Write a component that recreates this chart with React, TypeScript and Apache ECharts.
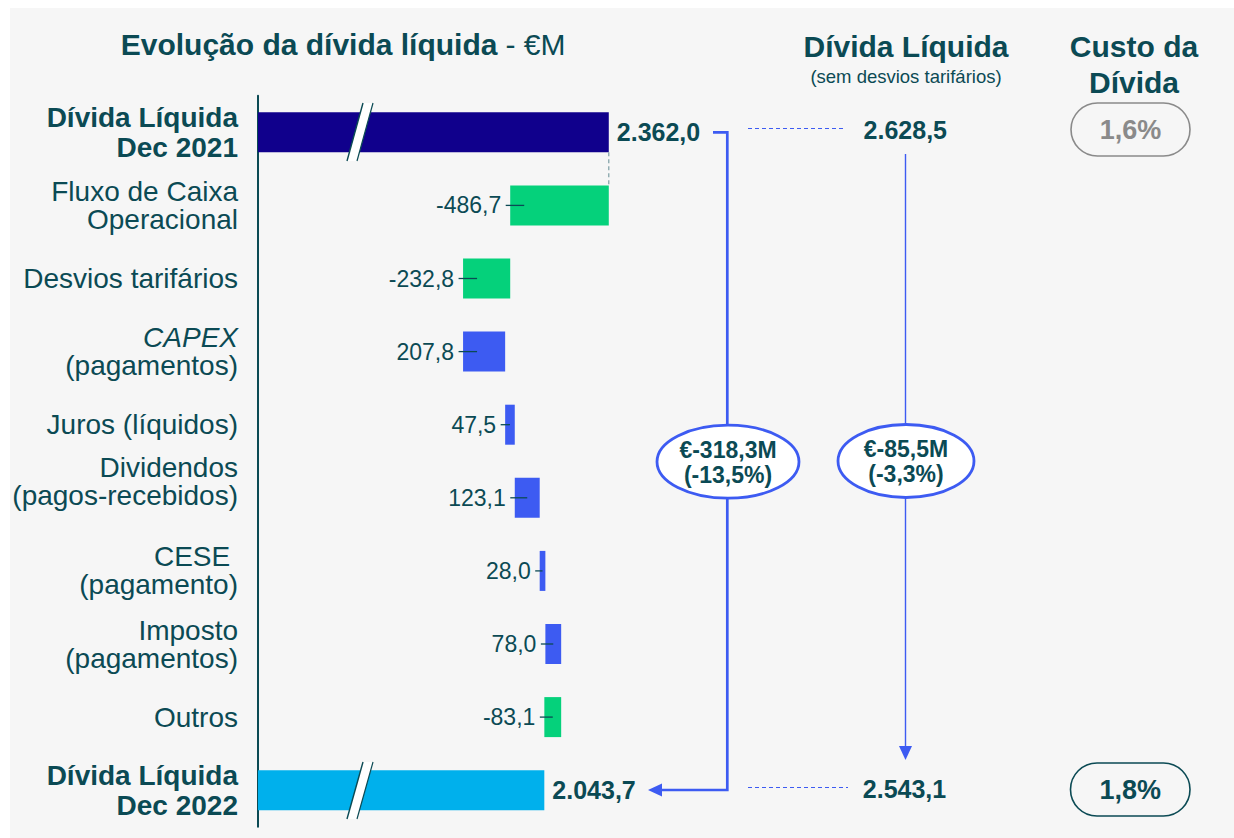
import React, { useEffect, useRef } from 'react';
import * as echarts from 'echarts';

// ---------- data ----------
const categories = [
  'Dívida Líquida\nDec 2021',
  'Fluxo de Caixa\nOperacional',
  'Desvios tarifários',
  'CAPEX\n(pagamentos)',
  'Juros (líquidos)',
  'Dividendos\n(pagos-recebidos)',
  'CESE \n(pagamento)',
  'Imposto\n(pagamentos)',
  'Outros',
  'Dívida Líquida\nDec 2022',
];
const openingDebt = 2362.0;
const closingDebt = 2043.7;
const movements = [-486.7, -232.8, 207.8, 47.5, 123.1, 28.0, 78.0, -83.1];
const debtExTariff = [2628.5, 2543.1];
const variationAbs = [-318.3, -85.5];
const variationPct = [-13.5, -3.3];
const costOfDebt = [1.6, 1.8];

// ---------- style ----------
const TEAL = '#0b4a54';
const NAVY = '#10008c';
const CYAN = '#00b0ec';
const GREEN = '#05d17b';
const BLUE = '#3d5bf2';
const GREY = '#8a8a8a';
const FONT = '"Liberation Sans", Arial, sans-serif';

const fmtNum = (v: number, grouped = true) => {
  const s = Math.abs(v).toFixed(1);
  let [i, d] = s.split('.');
  if (grouped) i = i.replace(/\B(?=(\d{3})+(?!\d))/g, '.');
  return (v < 0 ? '-' : '') + i + ',' + d;
};

export default function App() {
  const ref = useRef<HTMLDivElement>(null);

  useEffect(() => {
    if (!ref.current) return;
    const chart = echarts.init(ref.current, undefined, { renderer: 'svg' });

    // waterfall computation
    const n = categories.length;
    const baseData: any[] = [];
    const deltaData: any[] = [];
    const labelData: any[] = [];
    baseData.push({ value: openingDebt, itemStyle: { color: NAVY }, label: { show: true } });
    deltaData.push('-');
    let running = openingDebt;
    movements.forEach((m, k) => {
      const low = m < 0 ? running + m : running;
      const high = m < 0 ? running : running + m;
      baseData.push({ value: low, itemStyle: { color: 'rgba(0,0,0,0)' }, label: { show: false } });
      deltaData.push({ value: Math.abs(m), itemStyle: { color: m < 0 ? GREEN : BLUE } });
      labelData.push([low, high, k + 1, m]);
      running += m;
    });
    baseData.push({ value: closingDebt, itemStyle: { color: CYAN }, label: { show: true } });
    deltaData.push('-');

    const text = (x: number, y: number, t: string, o: any = {}) => ({
      type: 'text',
      x,
      y,
      z: 10,
      style: {
        text: t,
        fill: o.fill || TEAL,
        fontFamily: FONT,
        fontSize: o.size || 25,
        fontWeight: o.weight || 'bold',
        textAlign: o.align || 'center',
        textVerticalAlign: 'middle',
      },
    });

    const breakMark = (x: number, yTop: number, yBot: number) => [
      {
        type: 'polygon',
        z: 10,
        shape: { points: [[x + 16, yTop], [x + 26, yTop], [x + 10, yBot], [x, yBot]] },
        style: { fill: '#ffffff', stroke: 'none' },
      },
      {
        type: 'line',
        z: 11,
        shape: { x1: x + 16, y1: yTop, x2: x, y2: yBot },
        style: { stroke: TEAL, lineWidth: 1.4 },
      },
      {
        type: 'line',
        z: 11,
        shape: { x1: x + 26, y1: yTop, x2: x + 10, y2: yBot },
        style: { stroke: TEAL, lineWidth: 1.2 },
      },
    ];

    const ellipse = (cx: number, cy: number, rx: number, ry: number, abs: number, pct: number) => [
      {
        type: 'ellipse',
        z: 12,
        shape: { cx, cy, rx, ry },
        style: { fill: '#ffffff', stroke: BLUE, lineWidth: 2.8 },
      },
      { ...text(cx, cy - 12, '€' + fmtNum(abs) + 'M', { size: 23 }), z: 13 },
      { ...text(cx, cy + 13, '(' + fmtNum(pct) + '%)', { size: 23 }), z: 13 },
    ];

    const pill = (x: number, y: number, w: number, h: number, stroke: string, t: string) => [
      {
        type: 'rect',
        z: 10,
        shape: { x, y, width: w, height: h, r: h / 2 },
        style: { fill: 'none', stroke, lineWidth: 1.6 },
      },
      text(x + w / 2, y + h / 2, t, { size: 27, fill: stroke }),
    ];

    const graphic: any[] = [
      // title
      text(120.7, 44, 'Evolução da dívida líquida', { size: 30, align: 'left' }),
      text(505.5, 44, '- €M', { size: 30, align: 'left', weight: 'normal' }),
      // headers
      text(906, 46, 'Dívida Líquida', { size: 30 }),
      text(906, 76, '(sem desvios tarifários)', { size: 18.5, weight: 'normal' }),
      text(1134, 46, 'Custo da', { size: 30 }),
      text(1134, 82, 'Dívida', { size: 30 }),
      // break marks
      ...breakMark(347, 103, 161),
      ...breakMark(347, 762, 819),
      // connector for reported net debt
      {
        type: 'polyline',
        z: 10,
        shape: { points: [[713, 132.3], [727.3, 132.3], [727.3, 790], [660, 790]] },
        style: { stroke: BLUE, lineWidth: 2.7, fill: 'none' },
      },
      {
        type: 'polygon',
        z: 10,
        shape: { points: [[648, 790], [662, 783.5], [662, 796.5]] },
        style: { fill: BLUE },
      },
      // dashed links
      {
        type: 'line',
        z: 10,
        shape: { x1: 748, y1: 128.5, x2: 846, y2: 128.5 },
        style: { stroke: BLUE, lineWidth: 1.2, lineDash: [4, 3] },
      },
      {
        type: 'line',
        z: 10,
        shape: { x1: 748, y1: 787.5, x2: 848, y2: 787.5 },
        style: { stroke: BLUE, lineWidth: 1.2, lineDash: [4, 3] },
      },
      // values without tariff deviations
      text(905.3, 130, fmtNum(debtExTariff[0]), { size: 25 }),
      text(904.5, 789, fmtNum(debtExTariff[1]), { size: 25 }),
      // arrow for net debt ex tariff deviations
      {
        type: 'line',
        z: 10,
        shape: { x1: 905.5, y1: 154, x2: 905.5, y2: 750 },
        style: { stroke: BLUE, lineWidth: 1.4 },
      },
      {
        type: 'polygon',
        z: 10,
        shape: { points: [[899, 746], [912, 746], [905.5, 760]] },
        style: { fill: BLUE },
      },
      ...ellipse(728, 461.7, 71, 36.5, variationAbs[0], variationPct[0]),
      ...ellipse(906, 461, 68, 36.5, variationAbs[1], variationPct[1]),
      ...pill(1071, 103, 119, 53, GREY, fmtNum(costOfDebt[0]) + '%'),
      ...pill(1070.5, 763, 119.5, 53, TEAL, fmtNum(costOfDebt[1]) + '%'),
    ];

    const option: any = {
      animation: false,
      backgroundColor: 'transparent',
      grid: { left: 258, top: 95.75, width: 960, height: 731, containLabel: false },
      xAxis: {
        type: 'value',
        min: 630,
        max: 5370,
        show: false,
        splitLine: { show: false },
      },
      yAxis: {
        type: 'category',
        inverse: true,
        data: categories,
        axisLine: { show: true, lineStyle: { color: TEAL, width: 2 } },
        axisTick: { show: false },
        axisLabel: {
          margin: 20,
          align: 'right',
          formatter: (v: string, i: number) => {
            const lines = v.split('\n');
            if (i === 0 || i === n - 1) return lines.map((l) => `{b|${l}}`).join('\n');
            if (i === 3) return lines.map((l, j) => (j === 0 ? `{i|${l}}` : `{r|${l}}`)).join('\n');
            if (i === 5) return lines.map((l) => `{r|${l}}`).join('\n') + '\n{s| }';
            return lines.map((l) => `{r|${l}}`).join('\n');
          },
          rich: {
            b: { fontFamily: FONT, fontSize: 28, fontWeight: 'bold', color: TEAL, lineHeight: 30, align: 'right' },
            r: { fontFamily: FONT, fontSize: 28, color: TEAL, lineHeight: 28, align: 'right' },
            i: { fontFamily: FONT, fontSize: 28, fontStyle: 'italic', color: TEAL, lineHeight: 28, align: 'right' },
            s: { fontSize: 10, lineHeight: 32 },
          },
        },
      },
      series: [
        {
          type: 'bar',
          stack: 'w',
          barWidth: 40,
          data: baseData,
          clip: true,
          label: {
            show: false,
            position: 'right',
            distance: 8,
            fontFamily: FONT,
            fontSize: 25,
            fontWeight: 'bold',
            color: TEAL,
            formatter: (p: any) => fmtNum(p.value),
          },
        },
        {
          type: 'bar',
          stack: 'w',
          barWidth: 40,
          data: deltaData,
        },
        {
          type: 'custom',
          data: labelData,
          encode: { x: [0, 1], y: 2 },
          z: 5,
          renderItem: (params: any, api: any) => {
            const low = api.value(0);
            const high = api.value(1);
            const idx = api.value(2);
            const d = api.value(3);
            const p0 = api.coord([low, idx]);
            const p1 = api.coord([high, idx]);
            const y = p0[1];
            const x1 = p0[0] - 4.5;
            const x2 = Math.min((p0[0] + p1[0]) / 2, p0[0] + 14);
            const children: any[] = [
              { type: 'line', shape: { x1, y1: y, x2, y2: y }, style: { stroke: TEAL, lineWidth: 1.3 } },
              {
                type: 'text',
                style: {
                  text: fmtNum(d),
                  x: x1 - 4.5,
                  y,
                  align: 'right',
                  verticalAlign: 'middle',
                  fill: TEAL,
                  fontFamily: FONT,
                  fontSize: 23,
                },
              },
            ];
            if (params.dataIndex === 0) {
              const prev = api.coord([high, idx - 1]);
              children.push({
                type: 'line',
                shape: { x1: p1[0], y1: prev[1] + 20, x2: p1[0], y2: y - 20 },
                style: { stroke: '#7d9ea4', lineWidth: 1.2, lineDash: [4, 3] },
              });
            }
            return { type: 'group', children };
          },
        },
      ],
      graphic,
    };
    chart.setOption(option);
    return () => chart.dispose();
  }, []);

  return (
    <div style={{ position: 'fixed', left: 0, top: 0, width: 1234, height: 838, background: '#ffffff' }}>
      <div style={{ position: 'absolute', left: 10, top: 8, right: 0, bottom: 0, background: '#f6f6f6' }} />
      <div ref={ref} style={{ position: 'absolute', left: 0, top: 0, width: 1234, height: 838 }} />
    </div>
  );
}
